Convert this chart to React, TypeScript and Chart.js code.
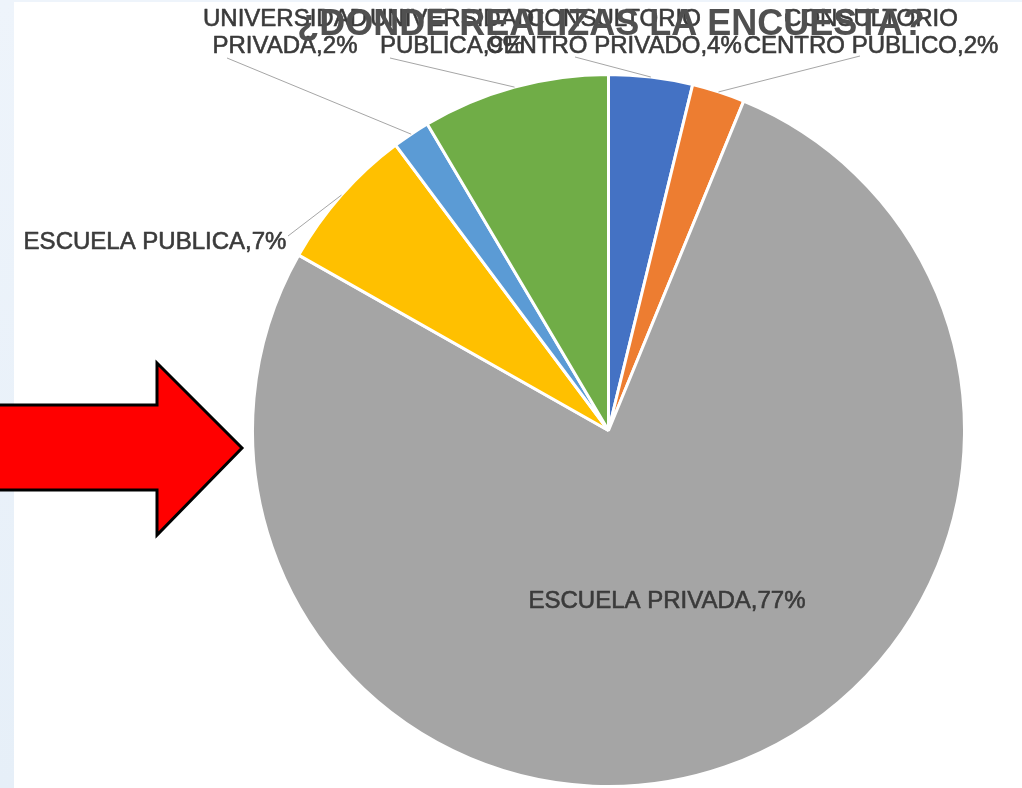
import React, { useEffect, useRef } from "react";
import { Chart, registerables } from "chart.js";

Chart.register(...registerables);

const TITLE = "¿DONDE REALIZAS LA ENCUESTA?";
const categoryHead = ["CONSULTORIO", "CONSULTORIO", "", "", "UNIVERSIDAD", "UNIVERSIDAD"];
const categoryTail = ["CENTRO PRIVADO", "CENTRO PUBLICO", "ESCUELA PRIVADA", "ESCUELA PUBLICA", "PRIVADA", "PUBLICA"];
const values = [3.8, 2.4, 77.0, 6.6, 1.7, 8.5];
const colors = ["#4472C4", "#ED7D31", "#A5A5A5", "#FFC000", "#5B9BD5", "#70AD47"];

// label layout: centre x, y of last line, optional leader start
const labelX = [614, 871, 667, 155, 285, 452];
const labelY = [46, 46, 601, 242, 46, 46];
const leaderFrom: (number[] | null)[] = [[575, 57], [860, 56], null, [288, 236], [227, 58], [390, 58]];

const FONT = '"Liberation Sans", Arial, sans-serif';

function heavyText(ctx: CanvasRenderingContext2D, s: string, x: number, y: number, w: number) {
  ctx.lineWidth = w;
  ctx.strokeText(s, x, y);
  ctx.fillText(s, x, y);
}

const decorPlugin = {
  id: "decor",
  beforeDraw(chart: any) {
    const ctx = chart.ctx;
    ctx.save();
    ctx.fillStyle = "#ffffff";
    ctx.fillRect(0, 0, chart.width, chart.height);
    const g = ctx.createLinearGradient(0, 0, 0, chart.height);
    g.addColorStop(0, "#eef4fb");
    g.addColorStop(1, "#e6eff8");
    ctx.fillStyle = g;
    ctx.fillRect(0, 0, 14, chart.height);
    ctx.fillStyle = "#eef4fb";
    ctx.fillRect(14, 0, chart.width - 14, 2);
    ctx.restore();
  },
  afterDatasetsDraw(chart: any) {
    const ctx = chart.ctx;
    const meta = chart.getDatasetMeta(0);
    const data = chart.data.datasets[0].data as number[];
    const total = data.reduce((a, b) => a + b, 0);
    ctx.save();
    // leader lines
    meta.data.forEach((arc: any, i: number) => {
      const from = leaderFrom[i];
      if (!from) return;
      const p = arc.getProps(["x", "y", "startAngle", "endAngle", "outerRadius"], true);
      const mid = (p.startAngle + p.endAngle) / 2;
      const ex = p.x + Math.cos(mid) * p.outerRadius;
      const ey = p.y + Math.sin(mid) * p.outerRadius;
      ctx.strokeStyle = "#a6a6a6";
      ctx.lineWidth = 1;
      ctx.beginPath();
      ctx.moveTo(from[0], from[1]);
      ctx.lineTo(ex, ey);
      ctx.stroke();
    });
    // labels
    ctx.font = `24px ${FONT}`;
    ctx.fillStyle = "#3a3a3a";
    ctx.strokeStyle = "#3a3a3a";
    ctx.lineJoin = "round";
    ctx.textAlign = "center";
    ctx.textBaseline = "middle";
    data.forEach((v, i) => {
      const pct = Math.round((v / total) * 100);
      const tail = `${categoryTail[i]},${pct}%`;
      heavyText(ctx, tail, labelX[i], labelY[i], 0.6);
      if (categoryHead[i]) heavyText(ctx, categoryHead[i], labelX[i], labelY[i] - 27, 0.6);
    });
    // title
    ctx.font = `bold 36px ${FONT}`;
    ctx.fillStyle = "#505050";
    ctx.fillText(TITLE, 611, 25);
    ctx.restore();
  },
  afterDraw(chart: any) {
    const ctx = chart.ctx;
    ctx.save();
    ctx.beginPath();
    ctx.moveTo(-10, 405);
    ctx.lineTo(157, 405);
    ctx.lineTo(157, 363);
    ctx.lineTo(242, 448);
    ctx.lineTo(157, 535);
    ctx.lineTo(157, 490);
    ctx.lineTo(-10, 490);
    ctx.closePath();
    ctx.fillStyle = "#ff0000";
    ctx.fill();
    ctx.lineWidth = 3;
    ctx.lineJoin = "miter";
    ctx.strokeStyle = "#000000";
    ctx.stroke();
    ctx.restore();
  },
};

export default function App() {
  const ref = useRef<HTMLCanvasElement | null>(null);
  useEffect(() => {
    document.body.style.margin = "0";
    if (!ref.current) return;
    const chart = new Chart(ref.current, {
      type: "pie",
      data: {
        labels: categoryTail,
        datasets: [
          {
            data: values,
            backgroundColor: colors,
            borderColor: "#ffffff",
            borderWidth: 3,
          },
        ],
      },
      options: {
        responsive: false,
        animation: false,
        layout: { padding: { top: 73, bottom: 0, left: 251, right: 56 } },
        plugins: {
          legend: { display: false },
          title: { display: false },
          tooltip: { enabled: false },
        },
      },
      plugins: [decorPlugin],
    });
    return () => chart.destroy();
  }, []);
  return (
    <div style={{ position: "absolute", left: 0, top: 0, width: 1022, height: 788, background: "#fff" }}>
      <canvas ref={ref} width={1022} height={788} style={{ display: "block" }} />
    </div>
  );
}
